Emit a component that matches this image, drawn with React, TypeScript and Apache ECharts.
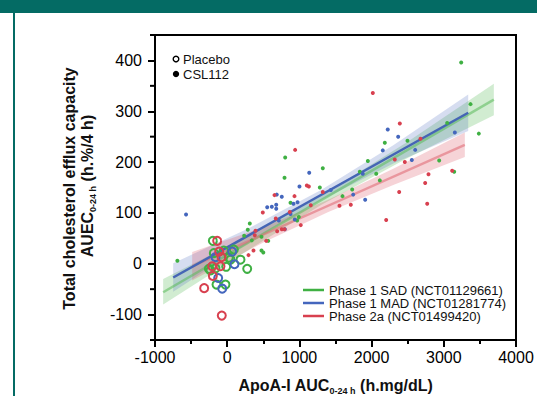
import React, { useEffect, useRef } from "react";
import * as echarts from "echarts";

// ---- data ----
const xTickValues = [-1000, 0, 1000, 2000, 3000, 4000];
const yTickValues = [-100, 0, 100, 200, 300, 400];
const yMinorTickValues = [-150, -50, 50, 150, 250, 350, 450];

// CSL112 (filled dots)
const sadCSL = [
  [-690, 6], [235, 55], [285, 67], [313, 79], [341, 46], [475, 53], [568, 45], [475, 26], [500, 22],
  [803, 209], [794, 169], [877, 120], [969, 85], [992, 92], [1283, 150], [1324, 188], [1597, 133],
  [1731, 146], [1837, 181], [1948, 202], [2064, 177], [2114, 164], [2183, 238], [2497, 242],
  [2936, 203], [3047, 277], [3144, 181], [3241, 396], [3370, 314], [3485, 256],
];
const madCSL = [
  [-570, 97], [554, 111], [618, 112], [679, 116], [679, 108], [687, 136], [756, 132], [715, 85],
  [798, 68], [877, 98], [918, 118], [936, 87], [974, 121], [1001, 152], [1136, 179], [1435, 145],
  [1745, 136], [1878, 177], [1911, 126], [2155, 223], [2224, 264], [2368, 250], [2557, 204],
  [2604, 224], [3153, 258],
];
const p2aCSL = [
  [295, 17], [364, 26], [382, 56], [392, 65], [493, 101], [540, 45], [655, 135], [673, 89], [692, 64],
  [756, 68], [794, 68], [867, 102], [932, 133], [941, 224], [1019, 76], [1103, 154], [1131, 152],
  [1158, 115], [1324, 141], [1555, 114], [1712, 116], [2017, 336], [2202, 86], [2321, 205],
  [2382, 141], [2391, 276], [2460, 200], [2677, 246], [2742, 159], [2770, 118], [2788, 176], [3116, 183],
];
// Placebo (open circles)
const sadPlacebo = [
  [-199, 45], [-185, 21], [-47, 26], [92, 28], [22, 12], [46, 8], [184, 8], [-14, -6], [277, -10],
  [-254, -10], [-231, -13], [-162, -9], [-148, -41], [-24, -41],
];
const madPlacebo = [[69, 24], [-162, 13], [101, -1], [-125, -28], [-69, -49]];
const p2aPlacebo = [
  [-139, 45], [-111, 24], [-79, 13], [-208, -5], [-93, -5], [-199, -24], [-319, -48], [-75, -102],
];

// Regression fits and confidence bands
const sadBandX = [-887, 300, 1300, 2500, 3693];
const sadFit = [-56, 41.5, 124.5, 224, 323];
const sadUpper = [-30, 55.5, 133.5, 240, 354];
const sadLower = [-80, 27.5, 115.5, 208, 292];

const madBandX = [-748, 300, 1300, 2300, 3338];
const madFit = [-27, 56, 135, 215, 297];
const madUpper = [1, 70, 145, 233, 333];
const madLower = [-55, 42, 125, 197, 261];

const p2aBandX = [-485, 500, 1400, 2300, 3291];
const p2aFit = [-5, 57, 114, 171, 234];
const p2aUpper = [23, 72, 126, 187, 258];
const p2aLower = [-33, 42, 102, 155, 210];

const legendLabels = ["Phase 1 SAD (NCT01129661)", "Phase 1 MAD (NCT01281774)", "Phase 2a (NCT01499420)"];

const GREEN = "#3fb043";
const BLUE = "#4466bd";
const RED = "#d8404f";
const FONT = "'Liberation Sans', Arial, sans-serif";

function bandSeries(xs: number[], up: number[], lo: number[], fill: string) {
  return {
    type: "custom",
    silent: true,
    z: 1,
    data: [[xs[0], up[0]]],
    renderItem: (_p: any, api: any) => {
      const pts: number[][] = [];
      for (let i = 0; i < xs.length; i++) pts.push(api.coord([xs[i], up[i]]));
      for (let i = xs.length - 1; i >= 0; i--) pts.push(api.coord([xs[i], lo[i]]));
      return { type: "polygon", shape: { points: pts }, style: { fill } };
    },
  };
}

function fitSeries(xs: number[], ys: number[], color: string, z: number) {
  return {
    type: "line",
    silent: true,
    z,
    symbol: "none",
    data: [[xs[0], ys[0]], [xs[xs.length - 1], ys[ys.length - 1]]],
    lineStyle: { color, width: 2.5 },
  };
}

function dotSeries(data: number[][], color: string) {
  return {
    type: "scatter",
    z: 4,
    symbolSize: 4,
    data,
    itemStyle: { color, opacity: 1 },
  };
}

function ringSeries(data: number[][], color: string) {
  return {
    type: "scatter",
    z: 3,
    symbolSize: 8,
    data,
    itemStyle: { color: "rgba(255,255,255,0)", borderColor: color, borderWidth: 2, opacity: 1 },
  };
}

export default function App() {
  const ref = useRef<HTMLDivElement>(null);
  useEffect(() => {
    if (!ref.current) return;
    const chart = echarts.init(ref.current, undefined, { renderer: "svg" });
    const legendColors = [GREEN, BLUE, RED];
    const legendGraphics: any[] = [];
    legendColors.forEach((c, i) => {
      const y = 290 + i * 13;
      legendGraphics.push({
        type: "line",
        shape: { x1: 303, y1: y, x2: 324, y2: y },
        style: { stroke: c, lineWidth: 2.5 },
      });
    });
    legendGraphics.push({
      type: "text",
      x: 329,
      y: 303,
      style: {
        text: legendLabels.join("\n"),
        fill: "#111",
        font: `13px ${FONT}`,
        lineHeight: 13,
        verticalAlign: "middle",
        align: "left",
      },
    });

    const xMin = xTickValues[0];

    chart.setOption({
      animation: false,
      grid: { left: 155, right: 21, top: 35, bottom: 56, show: true, borderColor: "#000", borderWidth: 2 },
      xAxis: {
        type: "value",
        min: xMin,
        max: xTickValues[xTickValues.length - 1],
        interval: 1000,
        axisLine: { show: true, onZero: false, lineStyle: { color: "#000", width: 2 } },
        axisTick: { show: true, length: 7, lineStyle: { color: "#000", width: 2 } },
        minorTick: { show: true, splitNumber: 2, length: 4, lineStyle: { color: "#000", width: 2 } },
        axisLabel: { color: "#000", fontSize: 16, fontFamily: FONT, margin: 9, formatter: (v: number) => String(v) },
        splitLine: { show: false },
      },
      yAxis: {
        type: "value",
        min: -150,
        max: 450,
        position: "left",
        axisLine: { show: true, onZero: false, lineStyle: { color: "#000", width: 2 } },
        axisTick: { show: true, length: 7, customValues: yTickValues, lineStyle: { color: "#000", width: 2 } },
        axisLabel: { color: "#000", fontSize: 16, fontFamily: FONT, margin: 13, customValues: yTickValues, formatter: (v: number) => String(v) },
        splitLine: { show: false },
      },
      series: [
        {
          type: "custom",
          silent: true,
          clip: false,
          z: 5,
          data: yMinorTickValues.map((v) => [xMin, v]),
          renderItem: (_p: any, api: any) => {
            const p = api.coord([api.value(0), api.value(1)]);
            return {
              type: "line",
              shape: { x1: p[0] - 5, y1: p[1], x2: p[0], y2: p[1] },
              style: { stroke: "#000", lineWidth: 2 },
            };
          },
        },
        bandSeries(sadBandX, sadUpper, sadLower, "rgba(70,180,70,0.25)"),
        bandSeries(madBandX, madUpper, madLower, "rgba(70,100,185,0.22)"),
        bandSeries(p2aBandX, p2aUpper, p2aLower, "rgba(220,80,95,0.25)"),
        fitSeries(sadBandX, sadFit, "rgba(90,185,90,0.55)", 2),
        fitSeries(p2aBandX, p2aFit, "rgba(225,110,120,0.6)", 2),
        fitSeries(madBandX, madFit, "#4565b5", 2),
        ringSeries(sadPlacebo, GREEN),
        ringSeries(madPlacebo, BLUE),
        ringSeries(p2aPlacebo, RED),
        dotSeries(sadCSL, GREEN),
        dotSeries(madCSL, BLUE),
        dotSeries(p2aCSL, RED),
      ],
      graphic: [
        { type: "rect", shape: { x: 0, y: 0, width: 537, height: 13 }, style: { fill: "#046b64" } },
        { type: "rect", shape: { x: 13, y: 0, width: 2, height: 396 }, style: { fill: "#046b64" } },
        { type: "circle", shape: { cx: 176, cy: 59, r: 2.8 }, style: { fill: "#fff", stroke: "#000", lineWidth: 1.4 } },
        { type: "circle", shape: { cx: 176, cy: 74, r: 3.2 }, style: { fill: "#000" } },
        { type: "text", x: 183, y: 59, style: { text: "Placebo", fill: "#111", font: `13px ${FONT}`, verticalAlign: "middle" } },
        { type: "text", x: 183, y: 74, style: { text: "CSL112", fill: "#111", font: `13px ${FONT}`, verticalAlign: "middle" } },
        ...legendGraphics,
        {
          type: "text",
          x: 69.5,
          y: 188.5,
          rotation: Math.PI / 2,
          style: {
            text: "Total cholesterol efflux capacity",
            fill: "#111",
            font: `bold 16px ${FONT}`,
            align: "center",
            verticalAlign: "middle",
          },
        },
        {
          type: "text",
          x: 87,
          y: 186,
          rotation: Math.PI / 2,
          style: {
            text: "{a|AUEC}{s|0-24 h}{a| (h.%/4 h)}",
            align: "center",
            verticalAlign: "middle",
            rich: {
              a: { font: `bold 16px ${FONT}`, fill: "#111", lineHeight: 20 },
              s: { font: `bold 9px ${FONT}`, fill: "#111", lineHeight: 7, verticalAlign: "bottom" },
            },
          },
        },
        {
          type: "text",
          x: 335.5,
          y: 385.5,
          style: {
            text: "{a|ApoA-I AUC}{s|0-24 h}{a| (h.mg/dL)}",
            align: "center",
            verticalAlign: "middle",
            rich: {
              a: { font: `bold 16px ${FONT}`, fill: "#111", lineHeight: 20 },
              s: { font: `bold 9px ${FONT}`, fill: "#111", lineHeight: 7, verticalAlign: "bottom" },
            },
          },
        },
      ],
    });
    return () => chart.dispose();
  }, []);
  return <div ref={ref} style={{ position: "fixed", left: 0, top: 0, width: 537, height: 396, background: "#fff" }} />;
}
